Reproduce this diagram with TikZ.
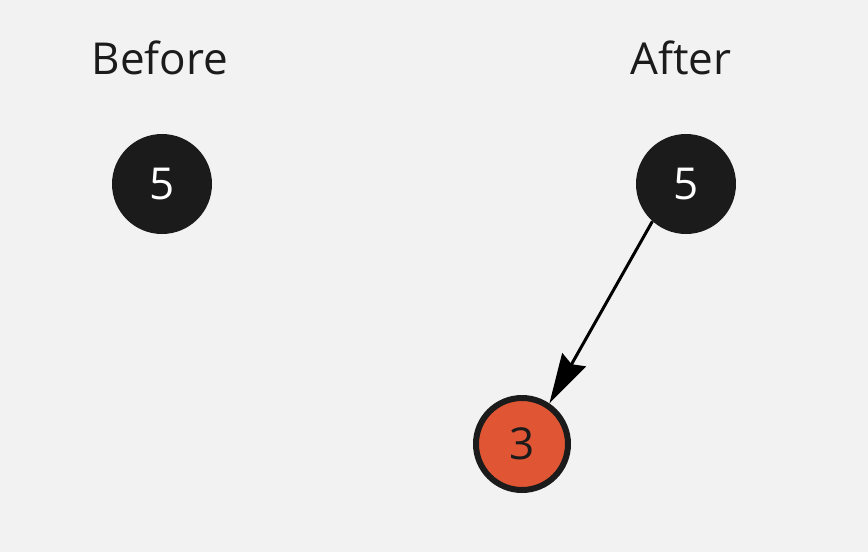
\documentclass[tikz,border=0pt]{standalone}
\usepackage{fontspec}
\setmainfont{Open Sans}
\usetikzlibrary{arrows.meta}
\definecolor{bg}{HTML}{F2F2F2}
\definecolor{ink}{HTML}{1B1B1B}
\definecolor{redfill}{HTML}{E05634}
\tikzset{
  title/.style={anchor=base, text=ink, font=\fontsize{44}{44}\selectfont},
  blacknode/.style={circle, fill=ink, minimum size=100pt, inner sep=0pt, text=white, font=\fontsize{44}{44}\selectfont},
  rednode/.style={circle, fill=redfill, draw=ink, line width=6pt, minimum size=92pt, inner sep=0pt, text=ink, font=\fontsize{44}{44}\selectfont},
  edge/.style={line width=3pt, -{Stealth[length=50pt, width=27pt, inset=5pt]}}
}
\begin{document}
\begin{tikzpicture}[x=1pt, y=-1pt]
\fill[bg] (0,0) rectangle (868,552);
\useasboundingbox (0,0) rectangle (868,552);
\node[title] (before) at (160,74) {Before};
\node[title] (after) at (681,74) {After};
\node[blacknode] (l5) at (162,184) {5};
\node[blacknode] (r5) at (686,184) {5};
\node[rednode] (r3) at (522,444) {3};
\draw[edge] (r5.228) -- (r3.56);
\end{tikzpicture}
\end{document}
